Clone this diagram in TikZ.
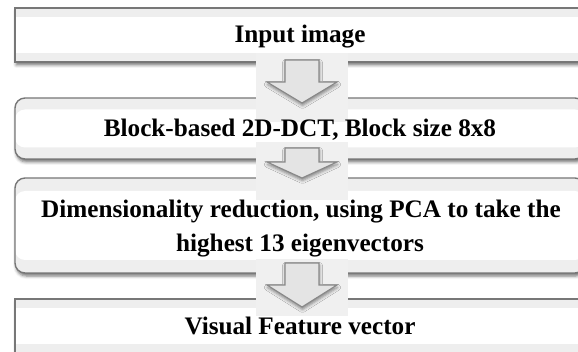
\documentclass[tikz,border=0pt]{standalone}
\usepackage{fontspec}
\setmainfont{Liberation Serif}
\usetikzlibrary{shadows.blur,calc}

\definecolor{edgegray}{HTML}{777777}
\definecolor{bandgray}{HTML}{EEEEEE}
\definecolor{arrowfill}{HTML}{E4E4E4}
\definecolor{arrowedge}{HTML}{888888}
\definecolor{arrowbg}{HTML}{F0F0F0}

\tikzset{
  stage/.style={draw=edgegray, line width=1.4pt, fill=bandgray,
    inner sep=0pt, outer sep=0pt, minimum width=570pt,
    blur shadow={shadow xshift=1.2pt, shadow yshift=-3pt,
      shadow blur radius=3pt, shadow opacity=55},
    path picture={\fill[white]
      ($(path picture bounding box.north west)+(0,-#1)$) rectangle
      ($(path picture bounding box.south east)+(0,#1)$);}},
  roundstage/.style={stage=#1, rounded corners=10pt},
  caption/.style={font=\bfseries\fontsize{25.2}{34}\selectfont, anchor=base,
    inner sep=0pt, text=black},
  arrowpad/.style={fill=arrowbg},
  flowarrow/.style={fill=arrowfill, draw=arrowedge, line width=1.1pt,
    line join=miter,
    blur shadow={shadow xshift=0.5pt, shadow yshift=-2.5pt,
      shadow blur radius=3pt, shadow opacity=45}},
}

\begin{document}
\begin{tikzpicture}[x=1pt, y=-1pt]
  \useasboundingbox (0,0) rectangle (578,352);
  \clip (0,0) rectangle (578,352);

  % process stages
  \node[stage=9pt,  minimum height=54pt] (s1) at (300,35) {};
  \node[roundstage=11.5pt, minimum height=61pt] (s2) at (300,128.5) {};
  \node[roundstage=13pt, minimum height=95pt] (s3) at (300,225.5) {};
  \node[stage=9pt,  minimum height=54pt] (s4) at (300,326) {};

  % light pads behind the block arrows
  \fill[arrowpad] (256,53)  rectangle (348,122);
  \fill[arrowpad] (256,142) rectangle (348,200);
  \fill[arrowpad] (256,259) rectangle (348,316);

  % block arrows from stage to stage
  \coordinate (a1) at ($(s1.south)+(2,-2)$);
  \coordinate (a2) at ($(s2.south)+(2,-11)$);
  \coordinate (a3) at ($(s3.south)+(2,-10)$);
  \draw[flowarrow] (a1) ++(-17,0) -- ++(34,0) -- ++(0,22) -- ++(18,0)
    -- ($(s2.north)+(2,5)$) -- ($(a1)+(-35,22)$) -- ++(18,0) -- cycle;
  \draw[flowarrow] (a2) ++(-17,0) -- ++(34,0) -- ++(0,14) -- ++(18,0)
    -- ($(s3.north)+(2,0)$) -- ($(a2)+(-35,14)$) -- ++(18,0) -- cycle;
  \draw[flowarrow] (a3) ++(-17,0) -- ++(34,0) -- ++(0,22) -- ++(18,0)
    -- ($(s4.north)+(2,8)$) -- ($(a3)+(-35,22)$) -- ++(18,0) -- cycle;

  % stage captions
  \node[caption] (t1)  at (300,43)  {Input image};
  \node[caption] (t2)  at (300,137) {Block-based 2D-DCT, Block size 8x8};
  \node[caption] (t3a) at (301,218) {Dimensionality reduction, using PCA to take the};
  \node[caption] (t3b) at (300,252) {highest 13 eigenvectors};
  \node[caption] (t4)  at (300,335) {Visual Feature vector};
\end{tikzpicture}
\end{document}
